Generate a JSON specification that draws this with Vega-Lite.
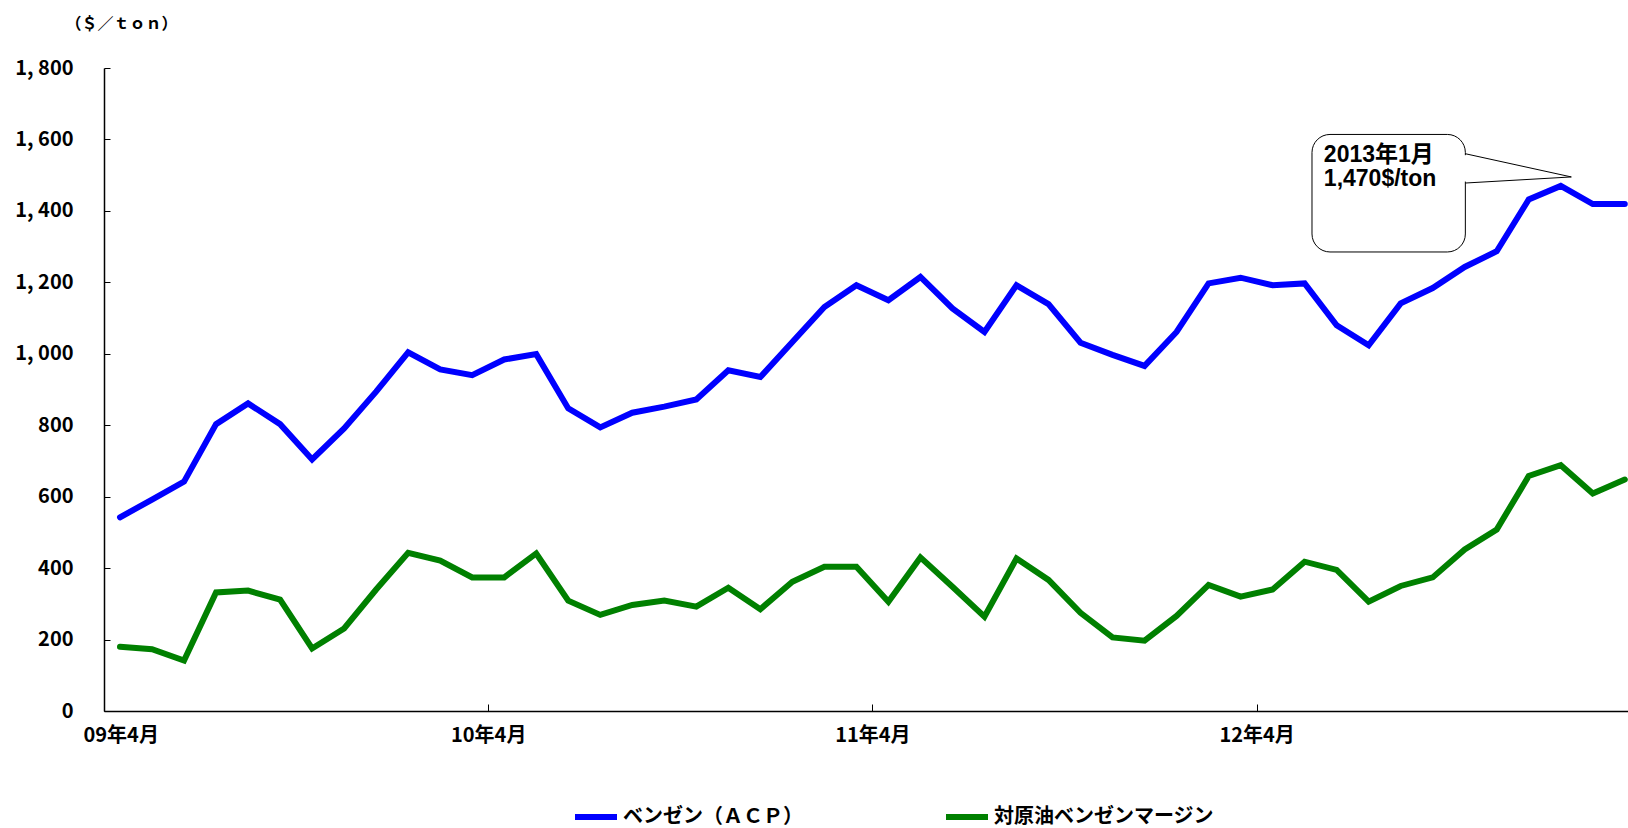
{
  "$schema": "https://vega.github.io/schema/vega-lite/v6.json",
  "width": 1524,
  "height": 643,
  "autosize": {"type": "none"},
  "padding": {"left": 104, "top": 68, "right": 0, "bottom": 117},
  "background": "white",
  "config": {"view": {"stroke": null}, "font": "Noto Sans CJK JP"},
  "datasets": {
    "prices": [
      {"m": 0, "month": "2009-04", "ベンゼン（ＡＣＰ）": 542, "対原油ベンゼンマージン": 180},
      {"m": 1, "month": "2009-05", "ベンゼン（ＡＣＰ）": 592, "対原油ベンゼンマージン": 173},
      {"m": 2, "month": "2009-06", "ベンゼン（ＡＣＰ）": 642, "対原油ベンゼンマージン": 141},
      {"m": 3, "month": "2009-07", "ベンゼン（ＡＣＰ）": 803, "対原油ベンゼンマージン": 332},
      {"m": 4, "month": "2009-08", "ベンゼン（ＡＣＰ）": 861, "対原油ベンゼンマージン": 337},
      {"m": 5, "month": "2009-09", "ベンゼン（ＡＣＰ）": 803, "対原油ベンゼンマージン": 312},
      {"m": 6, "month": "2009-10", "ベンゼン（ＡＣＰ）": 704, "対原油ベンゼンマージン": 175},
      {"m": 7, "month": "2009-11", "ベンゼン（ＡＣＰ）": 791, "対原油ベンゼンマージン": 231},
      {"m": 8, "month": "2009-12", "ベンゼン（ＡＣＰ）": 894, "対原油ベンゼンマージン": 340},
      {"m": 9, "month": "2010-01", "ベンゼン（ＡＣＰ）": 1004, "対原油ベンゼンマージン": 443},
      {"m": 10, "month": "2010-02", "ベンゼン（ＡＣＰ）": 956, "対原油ベンゼンマージン": 421},
      {"m": 11, "month": "2010-03", "ベンゼン（ＡＣＰ）": 940, "対原油ベンゼンマージン": 374},
      {"m": 12, "month": "2010-04", "ベンゼン（ＡＣＰ）": 984, "対原油ベンゼンマージン": 374},
      {"m": 13, "month": "2010-05", "ベンゼン（ＡＣＰ）": 999, "対原油ベンゼンマージン": 441},
      {"m": 14, "month": "2010-06", "ベンゼン（ＡＣＰ）": 847, "対原油ベンゼンマージン": 309},
      {"m": 15, "month": "2010-07", "ベンゼン（ＡＣＰ）": 794, "対原油ベンゼンマージン": 269},
      {"m": 16, "month": "2010-08", "ベンゼン（ＡＣＰ）": 835, "対原油ベンゼンマージン": 297},
      {"m": 17, "month": "2010-09", "ベンゼン（ＡＣＰ）": 852, "対原油ベンゼンマージン": 309},
      {"m": 18, "month": "2010-10", "ベンゼン（ＡＣＰ）": 872, "対原油ベンゼンマージン": 292},
      {"m": 19, "month": "2010-11", "ベンゼン（ＡＣＰ）": 954, "対原油ベンゼンマージン": 345},
      {"m": 20, "month": "2010-12", "ベンゼン（ＡＣＰ）": 935, "対原油ベンゼンマージン": 285},
      {"m": 21, "month": "2011-01", "ベンゼン（ＡＣＰ）": 1033, "対原油ベンゼンマージン": 362},
      {"m": 22, "month": "2011-02", "ベンゼン（ＡＣＰ）": 1131, "対原油ベンゼンマージン": 404},
      {"m": 23, "month": "2011-03", "ベンゼン（ＡＣＰ）": 1192, "対原油ベンゼンマージン": 404},
      {"m": 24, "month": "2011-04", "ベンゼン（ＡＣＰ）": 1150, "対原油ベンゼンマージン": 306},
      {"m": 25, "month": "2011-05", "ベンゼン（ＡＣＰ）": 1215, "対原油ベンゼンマージン": 430},
      {"m": 26, "month": "2011-06", "ベンゼン（ＡＣＰ）": 1127, "対原油ベンゼンマージン": 348},
      {"m": 27, "month": "2011-07", "ベンゼン（ＡＣＰ）": 1061, "対原油ベンゼンマージン": 264},
      {"m": 28, "month": "2011-08", "ベンゼン（ＡＣＰ）": 1192, "対原油ベンゼンマージン": 427},
      {"m": 29, "month": "2011-09", "ベンゼン（ＡＣＰ）": 1139, "対原油ベンゼンマージン": 367},
      {"m": 30, "month": "2011-10", "ベンゼン（ＡＣＰ）": 1031, "対原油ベンゼンマージン": 275},
      {"m": 31, "month": "2011-11", "ベンゼン（ＡＣＰ）": 997, "対原油ベンゼンマージン": 206},
      {"m": 32, "month": "2011-12", "ベンゼン（ＡＣＰ）": 966, "対原油ベンゼンマージン": 197},
      {"m": 33, "month": "2012-01", "ベンゼン（ＡＣＰ）": 1061, "対原油ベンゼンマージン": 266},
      {"m": 34, "month": "2012-02", "ベンゼン（ＡＣＰ）": 1197, "対原油ベンゼンマージン": 353},
      {"m": 35, "month": "2012-03", "ベンゼン（ＡＣＰ）": 1213, "対原油ベンゼンマージン": 320},
      {"m": 36, "month": "2012-04", "ベンゼン（ＡＣＰ）": 1192, "対原油ベンゼンマージン": 340},
      {"m": 37, "month": "2012-05", "ベンゼン（ＡＣＰ）": 1197, "対原油ベンゼンマージン": 418},
      {"m": 38, "month": "2012-06", "ベンゼン（ＡＣＰ）": 1080, "対原油ベンゼンマージン": 395},
      {"m": 39, "month": "2012-07", "ベンゼン（ＡＣＰ）": 1024, "対原油ベンゼンマージン": 306},
      {"m": 40, "month": "2012-08", "ベンゼン（ＡＣＰ）": 1141, "対原油ベンゼンマージン": 350},
      {"m": 41, "month": "2012-09", "ベンゼン（ＡＣＰ）": 1184, "対原油ベンゼンマージン": 374},
      {"m": 42, "month": "2012-10", "ベンゼン（ＡＣＰ）": 1243, "対原油ベンゼンマージン": 452},
      {"m": 43, "month": "2012-11", "ベンゼン（ＡＣＰ）": 1287, "対原油ベンゼンマージン": 508},
      {"m": 44, "month": "2012-12", "ベンゼン（ＡＣＰ）": 1432, "対原油ベンゼンマージン": 658},
      {"m": 45, "month": "2013-01", "ベンゼン（ＡＣＰ）": 1470, "対原油ベンゼンマージン": 688},
      {"m": 46, "month": "2013-02", "ベンゼン（ＡＣＰ）": 1419, "対原油ベンゼンマージン": 609},
      {"m": 47, "month": "2013-03", "ベンゼン（ＡＣＰ）": 1419, "対原油ベンゼンマージン": 648}
    ],
    "callout_box": [{"m": 37.23, "m2": 42.02, "value": 1614, "value2": 1285}],
    "callout_gap": [{"m": 42.02, "value": 1556, "value2": 1482}],
    "callout_pointer": [
      {"order": 1, "m": 42.02, "value": 1560},
      {"order": 2, "m": 45.33, "value": 1495},
      {"order": 3, "m": 42.02, "value": 1478}
    ],
    "callout_text": [
      {"m": 37.6, "value": 1556, "text": "2013年1月"},
      {"m": 37.6, "value": 1490, "text": "1,470$/ton"}
    ]
  },
  "layer": [
    {
      "data": {"name": "prices"},
      "transform": [{"fold": ["ベンゼン（ＡＣＰ）", "対原油ベンゼンマージン"], "as": ["series", "value"]}],
      "mark": {"type": "line", "strokeWidth": 6, "strokeCap": "round"},
      "encoding": {
        "x": {
          "field": "m", "type": "quantitative",
          "scale": {"domain": [-0.5, 47.1], "nice": false, "zero": false},
          "axis": {
            "values": [-0.5, 11.5, 23.5, 35.5],
            "labelExpr": "datum.value < 0 ? '09年4月' : datum.value < 12 ? '10年4月' : datum.value < 24 ? '11年4月' : '12年4月'",
            "labelOffset": 0, "labelFlush": 1, "labelFlushOffset": 21, "labelBound": false, "labelOverlap": false,
            "tickSize": -7, "tickColor": "black", "tickWidth": 1,
            "domainColor": "black", "domainWidth": 1.5,
            "labelFont": "Noto Sans CJK JP", "labelFontSize": 20, "labelFontWeight": "bold", "labelColor": "black",
            "labelPadding": 21, "title": null, "grid": false
          }
        },
        "y": {
          "field": "value", "type": "quantitative",
          "scale": {"domain": [0, 1800], "nice": false, "zero": true},
          "axis": {
            "values": [0, 200, 400, 600, 800, 1000, 1200, 1400, 1600, 1800],
            "labelExpr": "replace(format(datum.value, ','), ',', ', ')",
            "tickSize": -6, "tickColor": "black", "tickWidth": 1,
            "domainColor": "black", "domainWidth": 1.5,
            "labelFont": "Noto Sans CJK JP", "labelFontSize": 20, "labelFontWeight": "bold", "labelColor": "black",
            "labelPadding": 37, "grid": false,
            "title": "（＄／ｔｏｎ）", "titleAngle": 0, "titleX": -39, "titleY": -45,
            "titleAlign": "left", "titleBaseline": "middle",
            "titleFont": "Noto Sans CJK JP", "titleFontSize": 16, "titleFontWeight": "bold", "titleColor": "black"
          }
        },
        "color": {
          "field": "series", "type": "nominal",
          "scale": {"domain": ["ベンゼン（ＡＣＰ）", "対原油ベンゼンマージン"], "range": ["#0000FF", "#008000"]},
          "legend": {
            "orient": "none", "legendX": 468, "legendY": 725, "direction": "horizontal", "title": null,
            "symbolType": "stroke", "symbolSize": 1764, "symbolStrokeWidth": 6,
            "labelFont": "Noto Sans CJK JP", "labelFontSize": 20, "labelFontWeight": "bold", "labelColor": "black",
            "labelOffset": 3, "columnPadding": 131, "labelLimit": 400
          }
        }
      }
    },
    {
      "data": {"name": "callout_box"},
      "mark": {"type": "rect", "fill": "white", "stroke": "black", "strokeWidth": 1, "cornerRadius": 18},
      "encoding": {
        "x": {"field": "m", "type": "quantitative"},
        "x2": {"field": "m2"},
        "y": {"field": "value", "type": "quantitative"},
        "y2": {"field": "value2"}
      }
    },
    {
      "data": {"name": "callout_gap"},
      "mark": {"type": "rule", "stroke": "white", "strokeWidth": 3},
      "encoding": {
        "x": {"field": "m", "type": "quantitative"},
        "y": {"field": "value", "type": "quantitative"},
        "y2": {"field": "value2"}
      }
    },
    {
      "data": {"name": "callout_pointer"},
      "mark": {"type": "line", "stroke": "black", "strokeWidth": 1},
      "encoding": {
        "x": {"field": "m", "type": "quantitative"},
        "y": {"field": "value", "type": "quantitative"},
        "order": {"field": "order", "type": "quantitative"}
      }
    },
    {
      "data": {"name": "callout_text"},
      "mark": {"type": "text", "align": "left", "baseline": "middle", "font": "Liberation Sans, Noto Sans CJK JP", "fontSize": 23, "fontWeight": "bold", "color": "black"},
      "encoding": {
        "x": {"field": "m", "type": "quantitative"},
        "y": {"field": "value", "type": "quantitative"},
        "text": {"field": "text"}
      }
    }
  ]
}
